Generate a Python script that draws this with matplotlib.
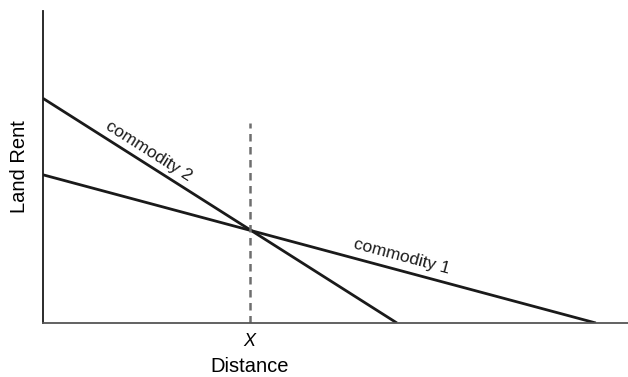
import numpy as np
import matplotlib.pyplot as plt

plt.rcParams['font.family'] = ['Liberation Sans', 'DejaVu Sans']

# rent gradients: (distance, rent) end points
commodity1_dist = [0.0, 9.45]
commodity1_rent = [4.75, 0.0]
commodity2_dist = [0.0, 6.05]
commodity2_rent = [7.2, 0.0]

# boundary distance X and top of dashed line
x_boundary = 3.53
boundary_top = 6.4


def main():
    fig = plt.figure(figsize=(6.28, 3.77), dpi=100)
    ax = fig.add_axes([43 / 628, 54 / 377, 585 / 628, 312 / 377])
    ax.set_xlim(0, 10)
    ax.set_ylim(0, 10)

    ax.plot(commodity1_dist, commodity1_rent, color='#1a1a1a', lw=2.0,
            solid_capstyle='butt')
    ax.plot(commodity2_dist, commodity2_rent, color='#1a1a1a', lw=2.0,
            solid_capstyle='butt')
    ax.plot([x_boundary, x_boundary], [0, boundary_top], color='#6e6e6e',
            lw=1.8, ls=(0, (3, 2.2)))

    # labels along the lines
    ax.text(1.8, 5.5, 'commodity 2', rotation=-32.4, fontsize=12.5,
            ha='center', va='center', rotation_mode='anchor', color='#1a1a1a')
    ax.text(6.13, 2.12, 'commodity 1', rotation=-15, fontsize=12.5,
            ha='center', va='center', rotation_mode='anchor', color='#1a1a1a')

    for side in ['top', 'right']:
        ax.spines[side].set_visible(False)
    ax.spines['left'].set_linewidth(1.3)
    ax.spines['bottom'].set_linewidth(1.3)
    ax.spines['left'].set_color('#1a1a1a')
    ax.spines['bottom'].set_color('#555555')

    ax.set_xticks([x_boundary])
    ax.set_xticklabels(['X'], fontsize=13, fontstyle='italic')
    ax.tick_params(axis='x', length=0, pad=7)
    ax.set_yticks([])
    ax.set_xlabel('Distance', fontsize=14.5)
    ax.xaxis.set_label_coords(x_boundary / 10, -0.108)
    ax.set_ylabel('Land Rent', fontsize=14.5, labelpad=10)

    fig.savefig('out.png', dpi=100)


if __name__ == "__main__":
    main()
